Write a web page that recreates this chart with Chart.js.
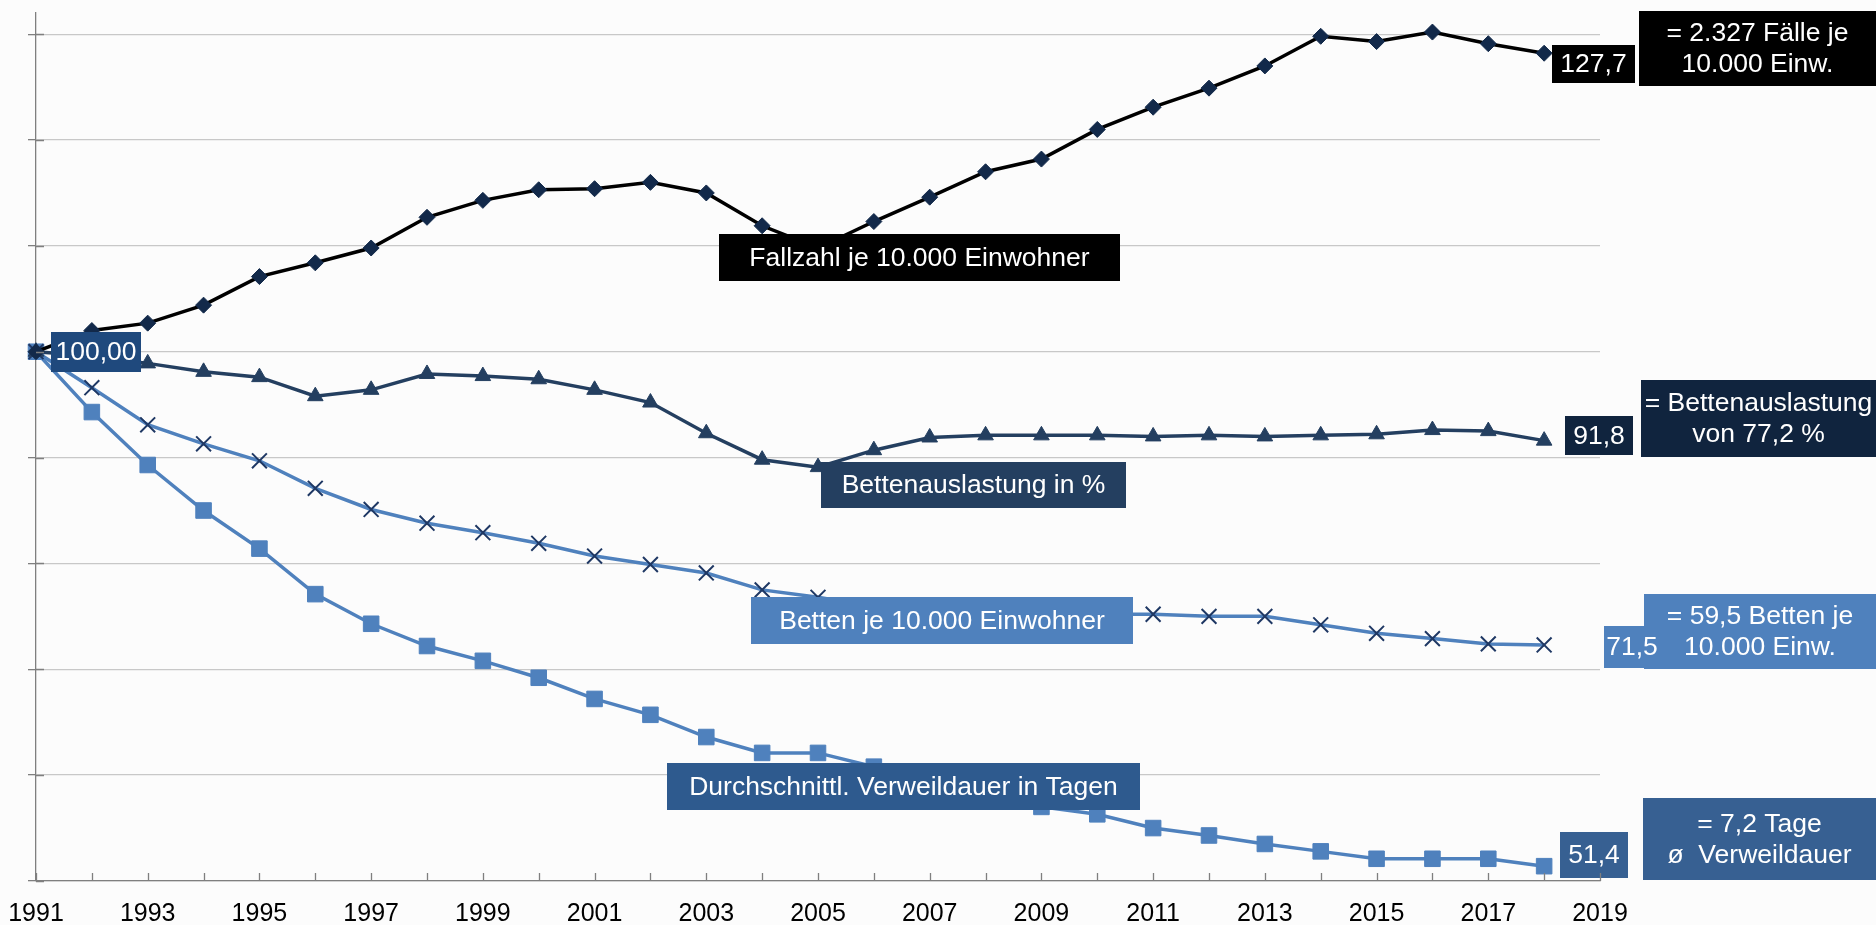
<!DOCTYPE html>
<html>
<head>
<meta charset="utf-8">
<script src="https://cdn.jsdelivr.net/npm/chart.js@4.4.0/dist/chart.umd.min.js"></script>
<style>
  html, body { margin: 0; padding: 0; background: #fcfcfc; }
  #wrap { width: 1876px; height: 925px; }
</style>
</head>
<body>
<div id="wrap"><canvas id="chart" width="1876" height="925"></canvas></div>
<script>
// Jahre (x-Achse), Daten bis 2018
const years = [1991, 1992, 1993, 1994, 1995, 1996, 1997, 1998, 1999, 2000,
  2001, 2002, 2003, 2004, 2005, 2006, 2007, 2008, 2009, 2010,
  2011, 2012, 2013, 2014, 2015, 2016, 2017, 2018, 2019];

// Index 1991 = 100
const fallzahl = [100, 102.0, 102.7, 104.4, 107.1, 108.4, 109.8, 112.7, 114.3, 115.3,
  115.4, 116.0, 115.0, 111.9, 109.8, 112.3, 114.6, 117.0, 118.2, 121.0,
  123.1, 124.9, 127.0, 129.8, 129.3, 130.2, 129.1, 128.2];
const bettenauslastung = [100, 99.6, 98.9, 98.1, 97.6, 95.8, 96.4, 97.9, 97.7, 97.4,
  96.4, 95.2, 92.3, 89.8, 89.1, 90.7, 91.9, 92.1, 92.1, 92.1,
  92.0, 92.1, 92.0, 92.1, 92.2, 92.6, 92.5, 91.6];
const betten = [100, 96.6, 93.1, 91.3, 89.7, 87.1, 85.1, 83.8, 82.9, 81.9,
  80.7, 79.9, 79.1, 77.5, 76.8, 75.9, 75.6, 75.4, 75.3, 75.2,
  75.2, 75.0, 75.0, 74.2, 73.4, 72.9, 72.4, 72.3];
const verweildauer = [100, 94.3, 89.3, 85.0, 81.4, 77.1, 74.3, 72.2, 70.8, 69.2,
  67.2, 65.7, 63.6, 62.1, 62.1, 60.8, 59.7, 58.5, 57.0, 56.3,
  55.0, 54.3, 53.5, 52.8, 52.1, 52.1, 52.1, 51.4];

const yTicks = [50, 60, 70, 80, 90, 100, 110, 120, 130];

// Beschriftungskästen (Pixel); Zahlenkästen zuletzt, damit sie oben liegen
const boxes = [
  { text: ['Fallzahl je 10.000 Einwohner'], x: 719, y: 234, w: 401, h: 47, bg: '#000000' },
  { text: ['Bettenauslastung in %'], x: 821, y: 462, w: 305, h: 46, bg: '#243f60' },
  { text: ['Betten je 10.000 Einwohner'], x: 751, y: 597, w: 382, h: 47, bg: '#4f81bd' },
  { text: ['Durchschnittl. Verweildauer in Tagen'], x: 667, y: 763, w: 473, h: 47, bg: '#2e5a8e' },
  { text: ['= 2.327 Fälle je', '10.000 Einw.'], x: 1639, y: 11, w: 237, h: 75, bg: '#000000' },
  { text: ['= Bettenauslastung', 'von 77,2 %'], x: 1641, y: 380, w: 235, h: 77, bg: '#10243e' },
  { text: ['= 59,5 Betten je', '10.000 Einw.'], x: 1644, y: 594, w: 232, h: 75, bg: '#4f81bd' },
  { text: ['= 7,2 Tage', 'ø  Verweildauer'], x: 1643, y: 798, w: 233, h: 82, bg: '#376092' },
  { text: ['100,00'], x: 51, y: 332, w: 90, h: 40, bg: '#1f497d' },
  { text: ['127,7'], x: 1552, y: 45, w: 83, h: 38, bg: '#000000' },
  { text: ['91,8'], x: 1565, y: 416, w: 68, h: 39, bg: '#10243e' },
  { text: ['71,5'], x: 1604, y: 626, w: 56, h: 42, bg: '#4f81bd' },
  { text: ['51,4'], x: 1560, y: 832, w: 68, h: 46, bg: '#376092' }
];

const FONT = '"Liberation Sans", Arial, sans-serif';

// Achsenstriche nach innen + Beschriftungskästen
const extras = {
  id: 'extras',
  afterDraw(chart) {
    const ctx = chart.ctx;
    const xs = chart.scales.x, ys = chart.scales.y;
    const area = chart.chartArea;
    ctx.save();
    ctx.strokeStyle = '#7f7f7f';
    ctx.lineWidth = 1.3;
    ctx.beginPath();
    years.forEach((yr, i) => {
      const px = Math.round(xs.getPixelForValue(i)) + 0.5;
      ctx.moveTo(px, area.bottom);
      ctx.lineTo(px, area.bottom - 8);
    });
    yTicks.forEach(v => {
      const py = Math.round(ys.getPixelForValue(v)) + 0.5;
      ctx.moveTo(area.left, py);
      ctx.lineTo(area.left + 8, py);
    });
    ctx.stroke();
    ctx.restore();
  },
  afterDatasetsDraw(chart) {
    const ctx = chart.ctx;
    ctx.save();
    ctx.font = '26.5px ' + FONT;
    ctx.textAlign = 'center';
    ctx.textBaseline = 'middle';
    boxes.forEach(b => {
      ctx.fillStyle = b.bg;
      ctx.fillRect(b.x, b.y, b.w, b.h);
      ctx.fillStyle = '#ffffff';
      const lh = 31;
      const n = b.text.length;
      b.text.forEach((t, k) => {
        const cy = b.y + b.h / 2 + (k - (n - 1) / 2) * lh + 1;
        ctx.fillText(t, b.x + b.w / 2, cy);
      });
    });
    ctx.restore();
  }
};

new Chart(document.getElementById('chart').getContext('2d'), {
  type: 'line',
  data: {
    labels: years,
    datasets: [
      {
        label: 'Fallzahl je 10.000 Einwohner',
        data: fallzahl,
        borderColor: '#000000',
        borderWidth: 3.5,
        pointStyle: 'rectRot',
        pointRadius: 8,
        pointBackgroundColor: '#12294a',
        pointBorderColor: '#12294a',
        pointBorderWidth: 1
      },
      {
        label: 'Bettenauslastung in %',
        data: bettenauslastung,
        borderColor: '#243f60',
        borderWidth: 3.5,
        pointStyle: 'triangle',
        pointRadius: 9,
        pointBackgroundColor: '#243f60',
        pointBorderColor: '#243f60',
        pointBorderWidth: 1
      },
      {
        label: 'Betten je 10.000 Einwohner',
        data: betten,
        borderColor: '#4f81bd',
        borderWidth: 3.5,
        pointStyle: 'crossRot',
        pointRadius: 10.5,
        pointBorderColor: '#1f3864',
        pointBorderWidth: 2
      },
      {
        label: 'Durchschnittl. Verweildauer in Tagen',
        data: verweildauer,
        borderColor: '#4f81bd',
        borderWidth: 3.5,
        pointStyle: 'rect',
        pointRadius: 11,
        pointBackgroundColor: '#4f81bd',
        pointBorderColor: '#4f81bd',
        pointBorderWidth: 1
      }
    ]
  },
  options: {
    responsive: false,
    devicePixelRatio: 1,
    animation: false,
    layout: { padding: { left: 28, right: 276, top: 13, bottom: 0 } },
    plugins: {
      legend: { display: false },
      tooltip: { enabled: false }
    },
    elements: { line: { tension: 0 } },
    scales: {
      x: {
        type: 'category',
        offset: false,
        grid: { display: false, drawTicks: false },
        border: { display: true, color: '#7f7f7f', width: 1.3 },
        afterFit: s => { s.height = 44; },
        ticks: {
          autoSkip: false,
          maxRotation: 0,
          padding: 2,
          color: '#000000',
          font: { family: FONT, size: 25, lineHeight: 2.5 },
          callback: (v, i) => (years[i] % 2 === 1 ? String(years[i]) : '')
        }
      },
      y: {
        min: 50,
        max: 132,
        afterBuildTicks: axis => {
          axis.ticks = yTicks.map(v => ({ value: v }));
        },
        grid: { color: '#c8c8c8', lineWidth: 1.3, tickLength: 8, tickColor: '#7f7f7f' },
        border: { display: true, color: '#7f7f7f', width: 1.3 },
        ticks: { display: false }
      }
    }
  },
  plugins: [extras]
});
</script>
</body>
</html>
